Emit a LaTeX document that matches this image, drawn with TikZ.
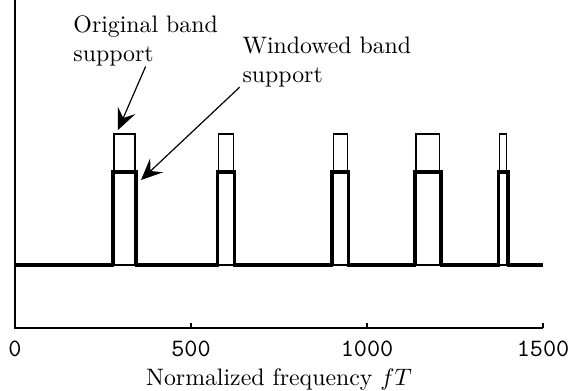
\documentclass[tikz,border=0pt]{standalone}
\usetikzlibrary{arrows.meta}
\begin{document}
\begin{tikzpicture}[x=0.14784pt, y=0.42pt,
	sig/.style={line width=1.3pt},
	thin/.style={line width=0.5pt},
	lbl/.style={align=left, inner sep=0pt, anchor=north west},
	pointer/.style={-{Stealth[length=9pt, width=8pt, inset=3.5pt]}, line width=0.5pt}]

\useasboundingbox (-42.6, -62) rectangle (1588, 328);

\draw[thin] (0, 328) -- (0, 0) -- (1500, 0);
\foreach \x in {0, 500, 1000, 1500}
\draw[thin] (\x, 5) -- (\x, 0) node[font=\fontsize{10.5}{12}\ttfamily] (tick\x) at (\x, -21) {\x};

\foreach \a/\b in {281/341, 578/620, 904/945, 1139/1207, 1376/1397}
\draw[thin] (\a, 63) rectangle (\b, 194);

\draw[sig] (0, 63) \foreach \a/\b in {277/345, 575/624, 900/948, 1136/1211, 1373/1401}
	{ -- (\a, 63) -- (\a, 156) -- (\b, 156) -- (\b, 63) } -- (1500, 63);

\node[lbl] (orig) at (164.8, 312.5) {Original band\\support};
\node[lbl] (win) at (645, 291.5) {Windowed band\\support};
\coordinate (origtip) at (292.6, 198);
\coordinate (wintip) at (358, 148);
\draw[pointer] (orig.south) -- (origtip);
\draw[pointer] ([xshift=-1pt]win.south west) -- (wintip);

\node[anchor=base] (xlabel) at (750, -57) {Normalized frequency $fT$};

\end{tikzpicture}
\end{document}
